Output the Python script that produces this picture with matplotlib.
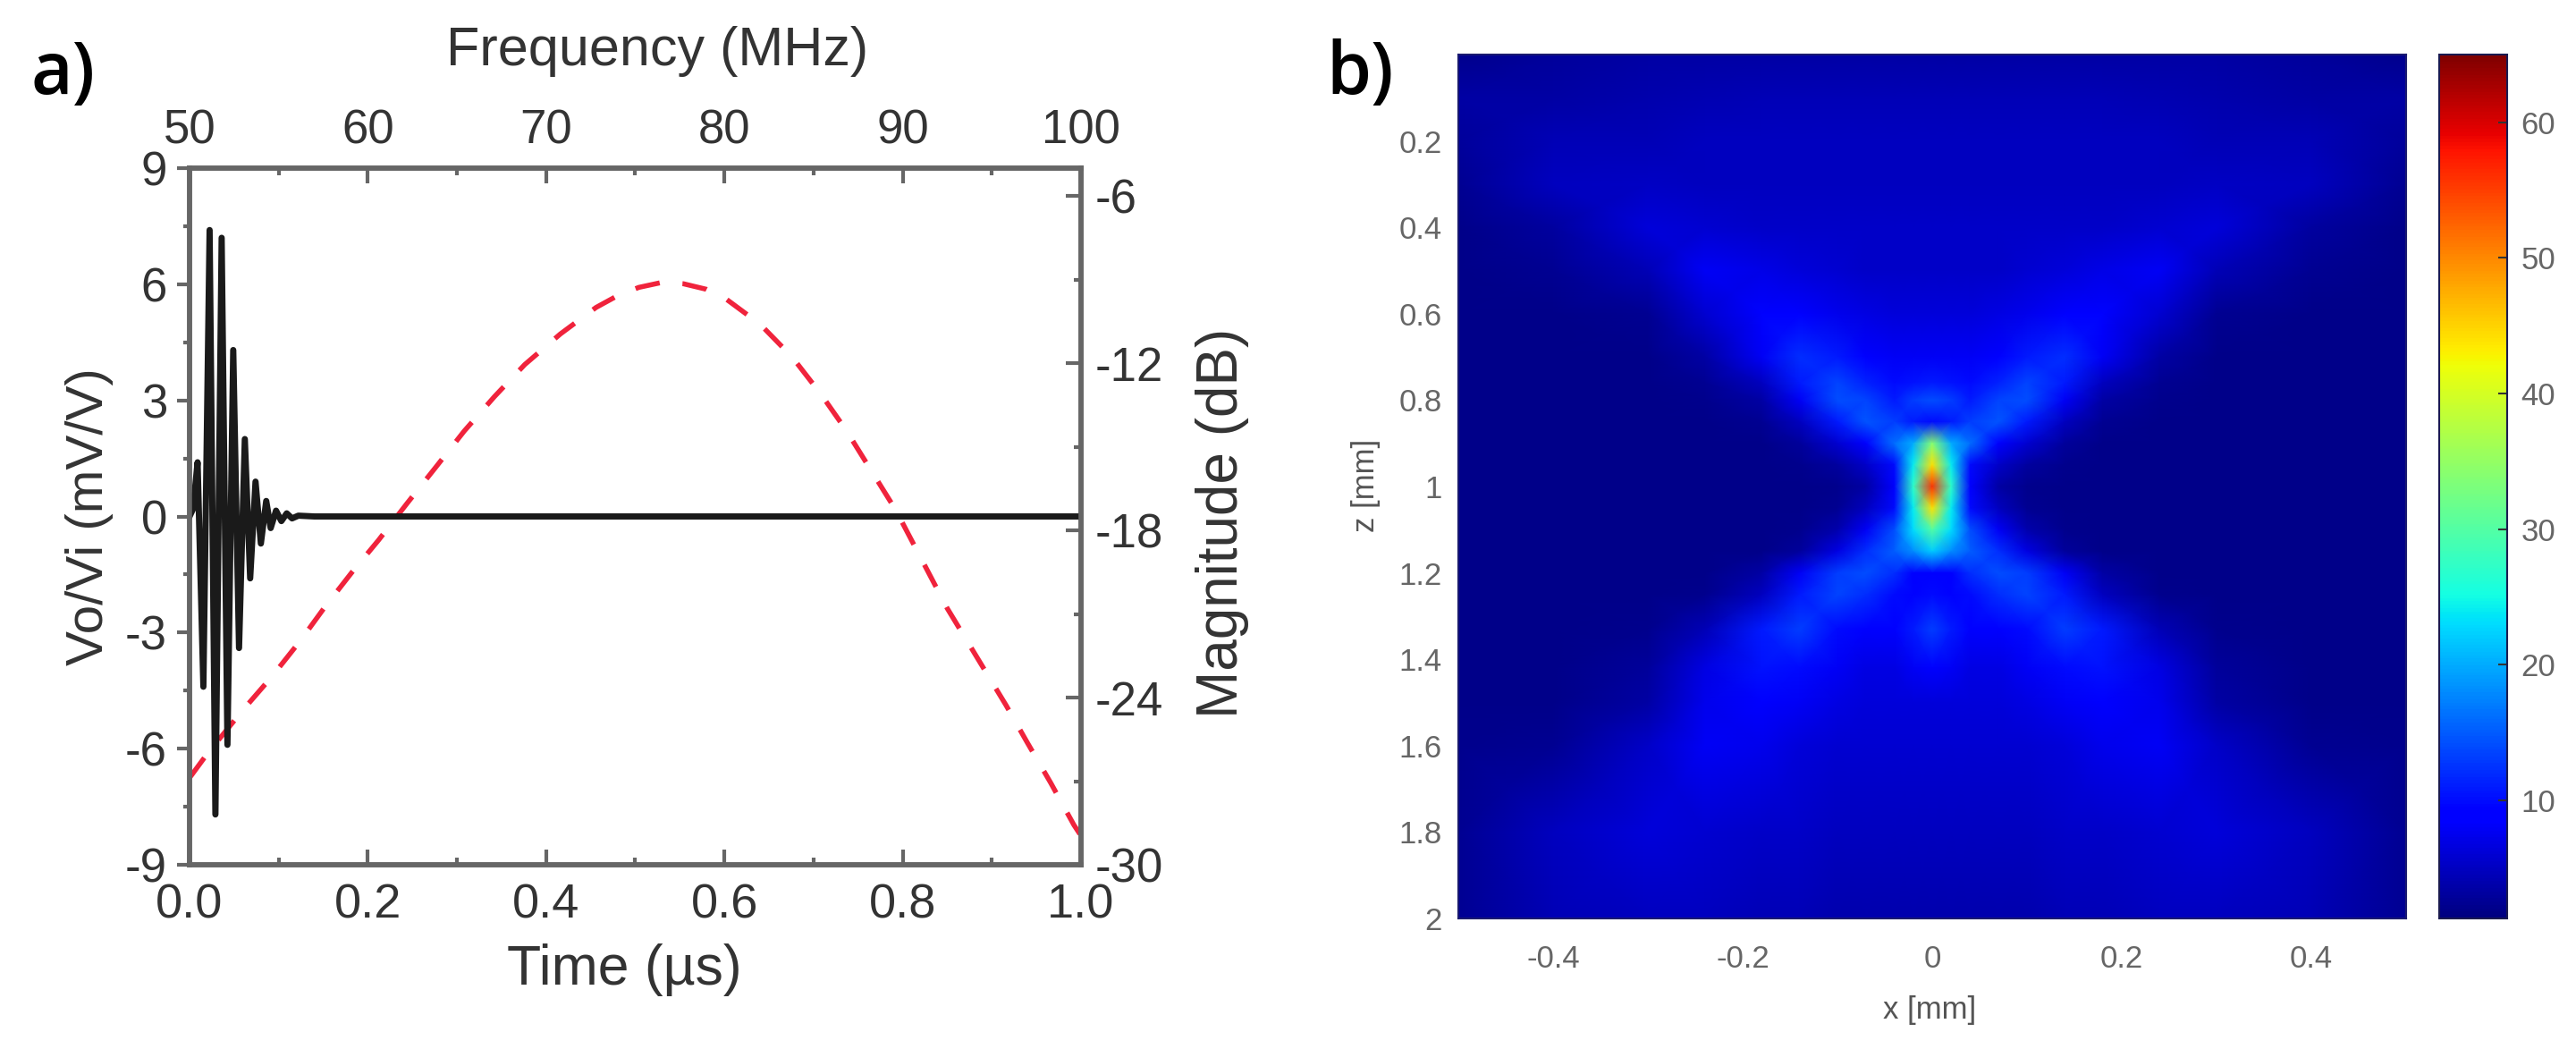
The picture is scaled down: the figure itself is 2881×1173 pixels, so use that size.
"""Two panel figure: impulse / frequency response and focused field map."""
import numpy as np
import matplotlib
matplotlib.use("Agg")
import matplotlib.pyplot as plt
from matplotlib.colors import Normalize

FIG_W, FIG_H = 2881, 1173

# Panel a: pulse, time (us) vs Vo/Vi (mV/V)
pulse_t = [0.0, 0.004, 0.009, 0.0155, 0.0225, 0.029, 0.036, 0.0425, 0.049, 0.0555,
           0.062, 0.068, 0.074, 0.08, 0.086, 0.091, 0.097, 0.103, 0.109, 0.115,
           0.122, 0.14, 1.0]
pulse_v = [0.0, 0.2, 1.4, -4.4, 7.4, -7.7, 7.2, -5.9, 4.3, -3.4,
           2.0, -1.6, 0.9, -0.7, 0.4, -0.3, 0.15, -0.12, 0.08, -0.05,
           0.02, 0.0, 0.0]

# Panel a: response, frequency (MHz) vs magnitude (dB)
resp_f = [50.0, 51.0, 53.0, 54.6, 56.2, 57.6, 59.1, 60.6, 62.2, 63.9, 65.4, 67.1,
          68.8, 70.8, 72.8, 74.0, 75.2, 76.5, 77.7, 79.0, 80.1, 82.0, 83.8, 85.4,
          86.8, 88.2, 89.6, 92.5, 95.8, 97.0, 98.3, 99.6, 100.0]
resp_db = [-26.88, -26.01, -24.44, -23.26, -21.97, -20.74, -19.51, -18.35, -17.03,
           -15.66, -14.44, -13.2, -12.05, -10.95, -10.0, -9.58, -9.28, -9.1, -9.15,
           -9.35, -9.7, -10.6, -11.78, -13.1, -14.38, -15.82, -17.26, -20.8, -24.28,
           -25.63, -27.06, -28.57, -28.96]

time_ticks = [0.0, 0.2, 0.4, 0.6, 0.8, 1.0]
volt_ticks = [-9, -6, -3, 0, 3, 6, 9]
freq_ticks = [50, 60, 70, 80, 90, 100]
db_ticks = [-30, -24, -18, -12, -6]

# Panel b: field values, x >= 0 half (map is symmetric)
field_x = [0.0, 0.02, 0.04, 0.07, 0.1, 0.14, 0.18, 0.24, 0.3, 0.4, 0.5]
field_z = [0.0, 0.1, 0.2, 0.3, 0.4, 0.5, 0.6, 0.7, 0.76, 0.8, 0.85, 0.9, 0.95, 1.0,
           1.05, 1.1, 1.15, 1.2, 1.25, 1.33, 1.42, 1.5, 1.6, 1.8, 2.0]
field_vals = [
    [3.5, 3.5, 3.5, 3.5, 3.5, 3.5, 3.5, 3.5, 3.5, 3.0, 2.2],
    [4.5, 4.5, 4.5, 4.5, 4.5, 4.5, 4.5, 4.2, 4.0, 3.5, 3.5],
    [5.0, 5.0, 5.0, 5.0, 5.0, 5.0, 5.0, 4.8, 4.5, 4.5, 2.8],
    [5.0, 5.0, 5.0, 5.0, 5.0, 5.0, 5.0, 5.0, 5.2, 5.0, 2.3],
    [5.5, 5.5, 5.5, 5.5, 5.5, 5.5, 5.5, 5.8, 6.5, 3.2, 2.0],
    [5.5, 5.5, 5.5, 5.5, 6.0, 6.5, 7.2, 7.8, 4.5, 2.5, 2.0],
    [6.5, 6.5, 6.5, 7.0, 7.5, 8.5, 9.5, 6.0, 2.5, 2.0, 2.0],
    [8.0, 8.0, 8.0, 8.5, 11.0, 12.0, 8.0, 3.5, 2.0, 2.0, 2.0],
    [11.0, 10.5, 10.0, 11.5, 13.5, 11.0, 5.0, 2.5, 2.0, 2.0, 2.0],
    [14.0, 13.0, 11.0, 13.5, 14.0, 8.0, 3.5, 2.2, 2.0, 2.0, 2.0],
    [10.0, 11.0, 13.0, 14.5, 11.0, 5.0, 2.5, 2.0, 2.0, 2.0, 2.0],
    [34.0, 20.0, 16.0, 9.0, 6.0, 3.0, 2.0, 2.0, 2.0, 2.0, 2.0],
    [44.0, 24.0, 10.0, 5.5, 3.2, 2.2, 2.0, 2.0, 2.0, 2.0, 2.0],
    [56.0, 27.0, 9.0, 3.5, 2.2, 2.0, 2.0, 2.0, 2.0, 2.0, 2.0],
    [44.0, 24.0, 10.0, 5.0, 2.5, 2.0, 2.0, 2.0, 2.0, 2.0, 2.0],
    [30.0, 23.0, 14.0, 8.0, 4.0, 2.2, 2.0, 2.0, 2.0, 2.0, 2.0],
    [22.0, 18.0, 15.0, 12.0, 7.0, 3.0, 2.0, 2.0, 2.0, 2.0, 2.0],
    [8.5, 9.0, 12.0, 14.0, 13.0, 8.0, 3.5, 2.0, 2.0, 2.0, 2.0],
    [10.0, 9.5, 10.0, 12.0, 13.5, 11.0, 5.0, 2.2, 2.0, 2.0, 2.0],
    [13.0, 11.0, 8.5, 8.5, 10.0, 13.0, 11.0, 4.5, 2.2, 2.0, 2.0],
    [8.5, 8.0, 7.0, 7.0, 8.0, 10.0, 10.5, 7.0, 3.0, 2.0, 2.0],
    [6.5, 6.5, 6.5, 6.5, 7.0, 8.0, 9.0, 7.5, 3.5, 2.0, 2.0],
    [6.0, 6.0, 6.0, 6.0, 6.0, 6.5, 7.5, 8.0, 5.5, 2.5, 2.2],
    [5.0, 5.0, 5.0, 5.0, 5.0, 5.5, 5.5, 6.0, 6.5, 5.0, 2.5],
    [4.0, 4.0, 4.0, 4.0, 4.0, 4.5, 4.5, 5.0, 5.0, 4.5, 2.5],
]

x_ticks = [-0.4, -0.2, 0, 0.2, 0.4]
x_labels = ["-0.4", "-0.2", "0", "0.2", "0.4"]
z_ticks = [0.2, 0.4, 0.6, 0.8, 1.0, 1.2, 1.4, 1.6, 1.8, 2.0]
z_labels = ["0.2", "0.4", "0.6", "0.8", "1", "1.2", "1.4", "1.6", "1.8", "2"]
cbar_ticks = [10, 20, 30, 40, 50, 60]

plt.rcParams["font.family"] = ["Liberation Sans", "DejaVu Sans"]
plt.rcParams["axes.unicode_minus"] = False


def px_axes(fig, left, top, right, bottom, **kwargs):
    """Axes placed by pixel edges, y measured from the top."""
    rect = [left / FIG_W, 1 - bottom / FIG_H, (right - left) / FIG_W, (bottom - top) / FIG_H]
    return fig.add_axes(rect, **kwargs)


def px_text(fig, x, y, s, **kwargs):
    kwargs.setdefault("ha", "center")
    kwargs.setdefault("va", "center")
    return fig.text(x / FIG_W, 1 - y / FIG_H, s, **kwargs)


fig = plt.figure(figsize=(FIG_W / 100, FIG_H / 100), dpi=100, facecolor="white")

AXIS_GRAY = "#666666"
TEXT_DARK = "#333333"

# Panel a, response on top/right axes (drawn first so the pulse sits over it)
ax_f = px_axes(fig, 212, 188, 1209, 967)
ax_f.plot(resp_f, resp_db, color="#f0233c", lw=4, dashes=(5.0, 4.6), dash_capstyle="butt")
ax_f.set_xlim(50, 100)
ax_f.set_ylim(-30, -5)
ax_f.xaxis.tick_top()
ax_f.yaxis.tick_right()
ax_f.set_xticks(freq_ticks)
ax_f.set_xticks([55, 65, 75, 85, 95], minor=True)
ax_f.set_yticks(db_ticks)
ax_f.set_yticks([-27, -21, -15, -9], minor=True)
ax_f.set_yticklabels([str(v) for v in db_ticks])
ax_f.tick_params(axis="x", which="major", direction="in", length=12, width=3, color=AXIS_GRAY,
                 labelsize=38, labelcolor=TEXT_DARK, pad=12)
ax_f.tick_params(axis="y", which="major", direction="in", length=12, width=3, color=AXIS_GRAY,
                 labelsize=38, labelcolor=TEXT_DARK, pad=11)
ax_f.tick_params(which="minor", direction="in", length=6, width=3, color=AXIS_GRAY)

# Panel a, pulse on bottom/left axes
ax_t = px_axes(fig, 212, 188, 1209, 967)
ax_t.patch.set_alpha(0)
ax_t.plot(pulse_t, pulse_v, color="#1a1a1a", lw=5, solid_joinstyle="round")
ax_t.set_xlim(0, 1)
ax_t.set_ylim(-9, 9)
ax_t.set_xticks(time_ticks)
ax_t.set_xticklabels(["%.1f" % v for v in time_ticks])
ax_t.set_xticks([0.1, 0.3, 0.5, 0.7, 0.9], minor=True)
ax_t.set_yticks(volt_ticks)
ax_t.set_yticks([-7.5, -4.5, -1.5, 1.5, 4.5, 7.5], minor=True)
ax_t.tick_params(axis="x", which="major", direction="in", length=12, width=3, color=AXIS_GRAY,
                 labelsize=39, labelcolor=TEXT_DARK, pad=15)
ax_t.tick_params(axis="y", which="major", direction="out", length=10, width=3, color=AXIS_GRAY,
                 labelsize=38, labelcolor=TEXT_DARK, pad=8)
ax_t.tick_params(axis="x", which="minor", direction="in", length=6, width=3, color=AXIS_GRAY)
ax_t.tick_params(axis="y", which="minor", direction="out", length=5, width=3, color=AXIS_GRAY)
for ax in (ax_f, ax_t):
    for spine in ax.spines.values():
        spine.set_color(AXIS_GRAY)
        spine.set_linewidth(4)

px_text(fig, 735, 58, "Frequency (MHz)", fontsize=44, color=TEXT_DARK)
px_text(fig, 698, 1084, "Time (\u00b5s)", fontsize=45, color=TEXT_DARK)
px_text(fig, 100, 578, "Vo/Vi (mV/V)", fontsize=42, color=TEXT_DARK, rotation=90)
px_text(fig, 1367, 585, "Magnitude (dB)", fontsize=46, color=TEXT_DARK, rotation=90)
px_text(fig, 35, 105, "a)", fontsize=58, family="Open Sans", fontweight="semibold",
        color="black", ha="left", va="baseline")
px_text(fig, 1483, 105, "b)", fontsize=58, family="Open Sans", fontweight="semibold",
        color="black", ha="left", va="baseline")

# Panel b
half = np.array(field_vals)
x_full = np.concatenate([-np.array(field_x[:0:-1]), field_x])
vals_full = np.hstack([half[:, :0:-1], half])
norm = Normalize(1.3, 65)

ax_map = px_axes(fig, 1631, 61, 2691, 1027)
mesh = ax_map.pcolormesh(x_full, field_z, vals_full, cmap="jet", norm=norm, shading="gouraud")
ax_map.set_xlim(-0.5, 0.5)
ax_map.set_ylim(2, 0)
ax_map.set_xticks(x_ticks)
ax_map.set_xticklabels(x_labels)
ax_map.set_yticks(z_ticks)
ax_map.set_yticklabels(z_labels)
ax_map.tick_params(axis="x", length=0, labelsize=25, labelcolor="#666666", pad=21)
ax_map.tick_params(axis="y", length=0, labelsize=25, labelcolor="#666666", pad=13)
for spine in ax_map.spines.values():
    spine.set_color("#1a1a70")
    spine.set_linewidth(1.5)

px_text(fig, 2158, 1130, "x [mm]", fontsize=25, color="#555555")
px_text(fig, 1528, 543, "z [mm]", fontsize=25, color="#555555", rotation=90)

cax = px_axes(fig, 2728, 61, 2804, 1027)
cbar = fig.colorbar(mesh, cax=cax)
cbar.set_ticks(cbar_ticks)
cbar.ax.tick_params(direction="in", length=7, width=1.5, color="#333333", labelsize=25,
                    labelcolor="#666666", pad=11)
cbar.outline.set_edgecolor("#1a1a50")
cbar.outline.set_linewidth(1.5)

plt.savefig("out.png", dpi=100)
